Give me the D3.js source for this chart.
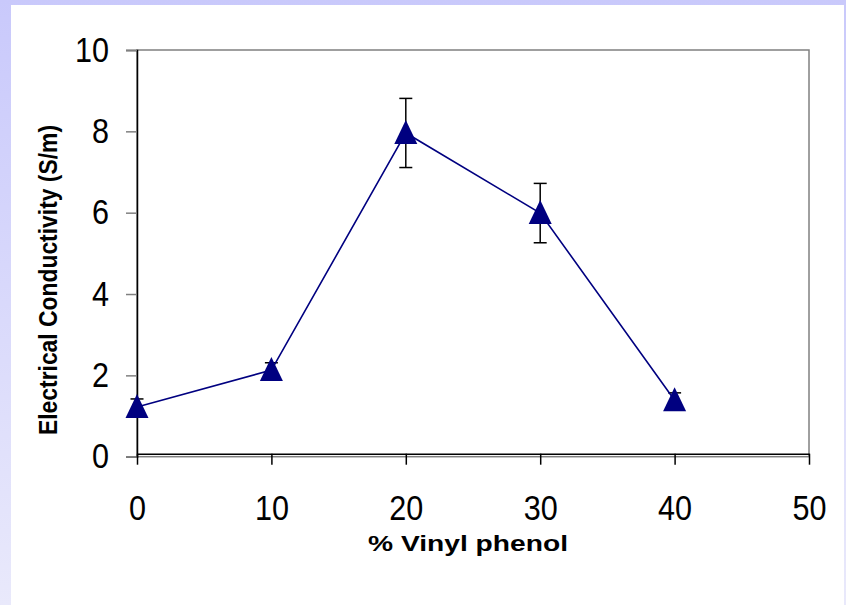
<!DOCTYPE html>
<html>
<head>
<meta charset="utf-8">
<script src="https://cdn.jsdelivr.net/npm/d3@7"></script>
<style>
  html, body { margin: 0; padding: 0; background: #fff; }
  svg { display: block; }
</style>
</head>
<body>
<div id="chart"></div>
<script>
"use strict";

// Values
const vinylPhenol = [0, 10, 20, 30, 40];
const conductivity = [1.22, 2.13, 7.96, 5.99, 1.39];
const errors = [0.2, 0.18, 0.85, 0.73, 0.18];
const xTicks = [0, 10, 20, 30, 40, 50];
const yTicks = [0, 2, 4, 6, 8, 10];

const width = 846, height = 605;
const plotLeft = 137, plotRight = 809, plotTop = 50, plotBottom = 456.7;

const svg = d3.select("#chart").append("svg")
    .attr("width", width)
    .attr("height", height);

// lavender frame with a gradient, white panel on top
const grad = svg.append("defs").append("linearGradient")
    .attr("id", "frame")
    .attr("x1", 0).attr("y1", 0).attr("x2", 0).attr("y2", 1);
grad.append("stop").attr("offset", "0%").attr("stop-color", "#c9c9fb");
grad.append("stop").attr("offset", "100%").attr("stop-color", "#e9e9fb");

svg.append("rect").attr("width", width).attr("height", height).attr("fill", "url(#frame)");
svg.append("rect").attr("x", 11).attr("y", 5).attr("width", 833).attr("height", height - 5).attr("fill", "#fff");

const x = d3.scaleLinear([0, 50], [plotLeft, plotRight]);
const y = d3.scaleLinear([0, 10], [plotBottom, plotTop]);

// plot area border (grey)
svg.append("rect")
    .attr("x", plotLeft).attr("y", plotTop)
    .attr("width", plotRight - plotLeft).attr("height", plotBottom - plotTop)
    .attr("fill", "none")
    .attr("stroke", "#808080")
    .attr("stroke-width", 1.5);

function tickText(g) {
    g.selectAll(".tick text")
        .attr("font-family", "Arial, 'Liberation Sans', sans-serif")
        .attr("font-size", 34.5)
        .attr("fill", "#000")
        .attr("textLength", d => String(d).length * 17)
        .attr("lengthAdjust", "spacingAndGlyphs");
}

// y axis
svg.append("g")
    .attr("transform", `translate(${plotLeft},0)`)
    .call(d3.axisLeft(y).tickValues(yTicks).tickSize(11).tickPadding(17).tickFormat(d3.format("d")))
    .call(g => g.select(".domain").attr("stroke", "#000").attr("stroke-width", 1.5))
    .call(g => g.selectAll(".tick line").attr("stroke", "#808080").attr("stroke-width", 1.5))
    .call(tickText);

// x axis (Excel draws it a touch above the zero line)
svg.append("g")
    .attr("transform", `translate(0,${y(0) - 3})`)
    .call(d3.axisBottom(x).tickValues(xTicks).tickSize(11).tickPadding(31).tickSizeOuter(0).tickFormat(d3.format("d")))
    .call(g => g.select(".domain").attr("stroke", "#000").attr("stroke-width", 1.5))
    .call(g => g.selectAll(".tick line").attr("stroke", "#000").attr("stroke-width", 1.5))
    .call(tickText);

// axis titles
svg.append("text")
    .attr("x", 468).attr("y", 551)
    .attr("text-anchor", "middle")
    .attr("font-family", "Arial, 'Liberation Sans', sans-serif")
    .attr("font-weight", "bold")
    .attr("font-size", 21.5)
    .attr("textLength", 200)
    .attr("lengthAdjust", "spacingAndGlyphs")
    .text("% Vinyl phenol");

svg.append("text")
    .attr("transform", "translate(57,280) rotate(-90)")
    .attr("text-anchor", "middle")
    .attr("font-family", "Arial, 'Liberation Sans', sans-serif")
    .attr("font-weight", "bold")
    .attr("font-size", 26)
    .attr("textLength", 310)
    .attr("lengthAdjust", "spacingAndGlyphs")
    .text("Electrical  Conductivity (S/m)");

const points = vinylPhenol.map((v, i) => ({x: v, y: conductivity[i], e: errors[i]}));

// error bars
const eb = svg.append("g").attr("stroke", "#000").attr("stroke-width", 1.5);
for (const p of points) {
    const cx = x(p.x);
    eb.append("line").attr("x1", cx).attr("x2", cx).attr("y1", y(p.y + p.e)).attr("y2", y(p.y - p.e));
    eb.append("line").attr("x1", cx - 6.5).attr("x2", cx + 6.5).attr("y1", y(p.y + p.e)).attr("y2", y(p.y + p.e));
    eb.append("line").attr("x1", cx - 6.5).attr("x2", cx + 6.5).attr("y1", y(p.y - p.e)).attr("y2", y(p.y - p.e));
}

// series line
const line = d3.line().x(d => x(d.x)).y(d => y(d.y));
svg.append("path")
    .attr("fill", "none")
    .attr("stroke", "#000080")
    .attr("stroke-width", 1.6)
    .attr("d", line(points));

// triangle markers
svg.append("g")
    .selectAll("path")
    .data(points)
    .join("path")
    .attr("transform", d => `translate(${x(d.x)},${y(d.y)})`)
    .attr("d", "M0,-13L11.5,11L-11.5,11Z")
    .attr("fill", "#000080");
</script>
</body>
</html>
